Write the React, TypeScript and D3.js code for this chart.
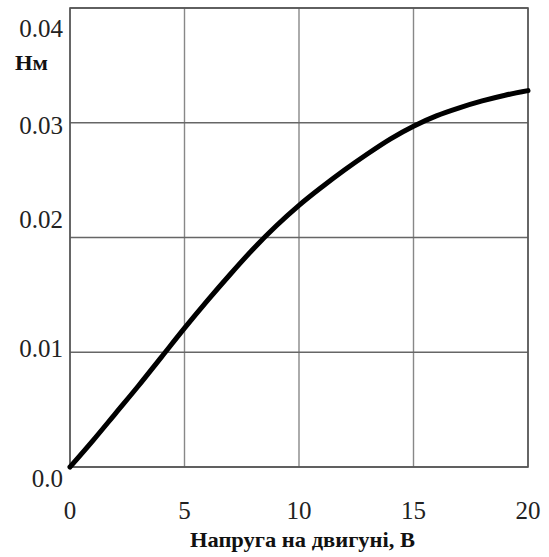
import React from "react";
import * as d3 from "d3";

const voltage = [0, 1, 2, 3, 4, 5, 6, 7, 8, 9, 10, 11, 12, 13, 14, 15, 16, 17, 18, 19, 20];
const torque = [0, 0.0023, 0.0047, 0.0071, 0.0096, 0.0121, 0.0145, 0.0168, 0.019, 0.021, 0.0228, 0.0244, 0.0259, 0.0273, 0.0286, 0.0297, 0.0306, 0.0313, 0.0319, 0.0324, 0.0328];
const xTicks = [0, 5, 10, 15, 20];
const yTicks = [0, 0.01, 0.02, 0.03, 0.04];
const yTickLabels = ["0.0", "0.01", "0.02", "0.03", "0.04"];
const xTitle = "Напруга на двигуні, В";
const yUnit = "Нм";

// layout: vertical offsets of the y tick labels relative to their gridline
const yTickLabelDy = [20, 5, -10, 11, 29];

export default function App() {
  const W = 549, H = 557;
  const x = d3.scaleLinear().domain([0, 20]).range([70, 528]);
  const y = d3.scaleLinear().domain([0, 0.04]).range([467, 8]);
  const line = d3.line<number>()
    .x((_, i) => x(voltage[i]))
    .y((d) => y(d))
    .curve(d3.curveMonotoneX);
  const font = "'Liberation Serif', 'Times New Roman', serif";
  return (
    <svg width={W} height={H} style={{ position: "absolute", left: 0, top: 0, background: "#fff" }}>
      <rect x={0} y={0} width={W} height={H} fill="#fff" />
      {xTicks.map((t) => (
        <line key={"gx" + t} x1={x(t)} x2={x(t)} y1={y(0.04)} y2={y(0)} stroke="#888" strokeWidth={1.4} />
      ))}
      {yTicks.map((t) => (
        <line key={"gy" + t} x1={x(0)} x2={x(20)} y1={y(t)} y2={y(t)} stroke="#666" strokeWidth={1.4} />
      ))}
      <rect x={x(0)} y={y(0.04)} width={x(20) - x(0)} height={y(0) - y(0.04)} fill="none" stroke="#555" strokeWidth={1.6} />
      <path d={line(torque) || ""} fill="none" stroke="#000" strokeWidth={5} strokeLinecap="round" />
      {xTicks.map((t) => (
        <text key={"tx" + t} x={x(t)} y={519} textAnchor="middle" fontFamily={font} fontSize={25} fill="#222">{t}</text>
      ))}
      {yTicks.map((t, i) => (
        <text key={"ty" + t} x={63} y={y(t) + yTickLabelDy[i]} textAnchor="end" fontFamily={font} fontSize={25} fill="#222">{yTickLabels[i]}</text>
      ))}
      <text x={15} y={70} fontFamily={font} fontSize={22} fontWeight="bold" fill="#111" textLength={33} lengthAdjust="spacingAndGlyphs">{yUnit}</text>
      <text x={190} y={547} fontFamily={font} fontSize={22} fontWeight="bold" fill="#111" textLength={225} lengthAdjust="spacingAndGlyphs">{xTitle}</text>
    </svg>
  );
}
